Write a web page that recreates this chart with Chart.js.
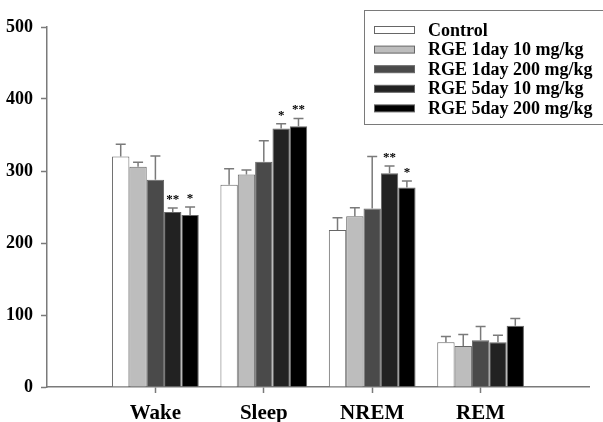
<!DOCTYPE html>
<html>
<head>
<meta charset="utf-8">
<script src="https://cdn.jsdelivr.net/npm/chart.js@4/dist/chart.umd.min.js"></script>
<style>
  html, body { margin: 0; padding: 0; background: #fff; }
  #wrap { width: 603px; height: 422px; }
</style>
</head>
<body>
<div id="wrap"><canvas id="chart" width="603" height="422"></canvas></div>
<script>
// empty slots at both ends leave the gaps the original axis has
const categories = ['', 'Wake', 'Sleep', 'NREM', 'REM', ''];
const yTicks = [0, 100, 200, 300, 400, 500];

const seriesNames = ['Control', 'RGE 1day 10 mg/kg', 'RGE 1day 200 mg/kg', 'RGE 5day 10 mg/kg', 'RGE 5day 200 mg/kg'];

const control     = [null, 320, 281, 218, 62, null];
const controlErr  = [null, 17, 22, 17, 8, null];
const day1Low     = [null, 306, 295, 237, 57, null];
const day1LowErr  = [null, 6, 6.5, 12, 16, null];
const day1High    = [null, 288, 313, 248, 65, null];
const day1HighErr = [null, 33, 29, 72, 19, null];
const day5Low     = [null, 243, 359, 297, 62, null];
const day5LowErr  = [null, 5.5, 6.5, 10, 10, null];
const day5High    = [null, 239, 362, 277, 85, null];
const day5HighErr = [null, 11, 11, 9, 10, null];

const day5LowSig  = ['', '**', '*', '**', '', ''];
const day5HighSig = ['', '*', '**', '*', '', ''];

const fills = ['#ffffff', '#bdbdbd', '#4a4a4a', '#222222', '#000000'];
const GRAY = '#7a7a7a';
const SERIF = '"Liberation Serif", "Times New Roman", serif';

const values = [control, day1Low, day1High, day5Low, day5High];
const errors = [controlErr, day1LowErr, day1HighErr, day5LowErr, day5HighErr];
const stars = [null, null, null, day5LowSig, day5HighSig];

const errorBars = {
  id: 'errorBars',
  afterDatasetsDraw(chart) {
    const ctx = chart.ctx;
    const y = chart.scales.y;
    ctx.save();
    chart.data.datasets.forEach((ds, i) => {
      const meta = chart.getDatasetMeta(i);
      meta.data.forEach((bar, j) => {
        const v = ds.data[j];
        if (v == null) return;
        const top = y.getPixelForValue(v + errors[i][j]);
        ctx.strokeStyle = GRAY;
        ctx.lineWidth = 1.5;
        ctx.beginPath();
        ctx.moveTo(bar.x, bar.y);
        ctx.lineTo(bar.x, top);
        ctx.moveTo(bar.x - 5, top);
        ctx.lineTo(bar.x + 5, top);
        ctx.stroke();
        if (stars[i] && stars[i][j]) {
          ctx.fillStyle = '#000';
          ctx.font = 'bold 13px ' + SERIF;
          ctx.textAlign = 'center';
          ctx.textBaseline = 'alphabetic';
          ctx.fillText(stars[i][j], bar.x, top - 5);
        }
      });
    });
    ctx.restore();
  }
};

const boxLegend = {
  id: 'boxLegend',
  afterDraw(chart) {
    const ctx = chart.ctx;
    ctx.save();
    ctx.strokeStyle = GRAY;
    ctx.lineWidth = 1;
    ctx.strokeRect(364.5, 10.5, 260, 114);
    ctx.font = 'bold 18px ' + SERIF;
    ctx.textAlign = 'left';
    ctx.textBaseline = 'middle';
    chart.data.datasets.forEach((ds, i) => {
      const cy = 30 + i * 19.6;
      ctx.fillStyle = ds.backgroundColor;
      ctx.fillRect(374, cy - 3.5, 41, 7);
      ctx.strokeStyle = '#666';
      ctx.strokeRect(374.5, cy - 3.5, 40, 7);
      ctx.fillStyle = '#000';
      ctx.fillText(ds.label, 428, cy + 1);
    });
    ctx.restore();
  }
};

const datasets = seriesNames.map((name, i) => ({
  label: name,
  data: values[i],
  backgroundColor: fills[i],
  borderColor: '#666',
  borderWidth: 1,
  categoryPercentage: 0.8,
  barPercentage: 1.0
}));

// tick marks only under the four named groups
const xTickColor = (c) => (categories[c.index] ? GRAY : 'rgba(0,0,0,0)');

new Chart(document.getElementById('chart').getContext('2d'), {
  type: 'bar',
  data: { labels: categories, datasets: datasets },
  options: {
    responsive: false,
    animation: false,
    layout: { padding: { left: 0, right: 14, top: 27, bottom: 0 } },
    plugins: {
      legend: { display: false },
      tooltip: { enabled: false }
    },
    scales: {
      x: {
        offset: false,
        grid: {
          offset: false,
          drawOnChartArea: false,
          drawTicks: true,
          tickLength: 6,
          tickWidth: 1.5,
          color: xTickColor,
          tickColor: xTickColor
        },
        border: { color: GRAY, width: 1.5 },
        ticks: {
          color: '#000',
          padding: 8,
          maxRotation: 0,
          autoSkip: false,
          font: { family: SERIF, size: 21, weight: 'bold' }
        },
        afterFit: (s) => { s.height = 35; }
      },
      y: {
        min: 0,
        max: 500,
        afterBuildTicks: (s) => { s.ticks = yTicks.map(v => ({ value: v })); },
        grid: { drawOnChartArea: false, tickLength: 6, tickWidth: 1.5, color: GRAY },
        border: { color: GRAY, width: 1.5 },
        ticks: {
          color: '#000',
          padding: 8,
          font: { family: SERIF, size: 18, weight: 'bold' }
        },
        afterFit: (s) => { s.width = 47; }
      }
    }
  },
  plugins: [errorBars, boxLegend]
});
</script>
</body>
</html>
